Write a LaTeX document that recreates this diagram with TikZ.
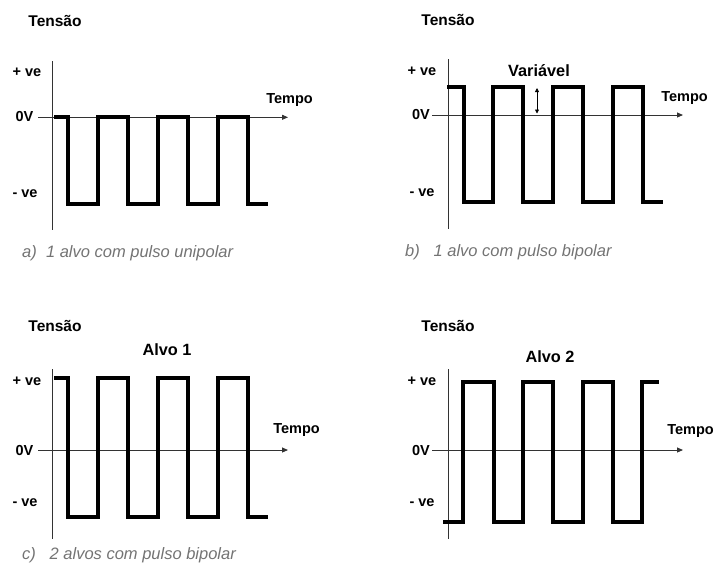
\documentclass[tikz,border=0pt]{standalone}
\usepackage{fontspec}
\setmainfont{Liberation Sans}
\usetikzlibrary{arrows.meta}
\begin{document}
\begin{tikzpicture}[x=1pt,y=-1pt,
  axis/.style={line width=0.9pt,black!80,-{Triangle[length=6pt,width=5pt]}},
  vaxis/.style={line width=0.9pt,black!80},
  wave/.style={line width=3.2pt,line join=miter,line cap=butt},
  lab/.style={inner sep=0,font=\bfseries\fontsize{14.5}{16}\selectfont},
  ttl/.style={inner sep=0,font=\bfseries\fontsize{15.5}{17}\selectfont},
  big/.style={inner sep=0,font=\bfseries\fontsize{16.3}{18}\selectfont},
  captxt/.style={inner sep=0,anchor=west,text=black!55,font=\itshape\fontsize{16.5}{18}\selectfont}]
\useasboundingbox (0,0) rectangle (714,574);
% ---------- panel a ----------
\node[ttl] (ta) at (55,21) {Tensão};
\node[lab] (pa) at (27,72) {+ ve};
\node[lab] (za) at (24.5,117) {0V};
\node[lab] (na) at (25,194) {- ve};
\node[lab] (ea) at (289.5,100) {Tempo};
\coordinate (va1) at (52.3,61); \coordinate (va2) at (52.3,230);
\coordinate (ha1) at (38,117.3); \coordinate (ha2) at (288,117.3);
\draw[vaxis] (va1) -- (va2);
\draw[axis] (ha1) -- (ha2);
\draw[wave] (54,117) -- (68,117) -- (68,204) -- (98,204) -- (98,117) -- (128,117) -- (128,204) -- (158,204) -- (158,117) -- (188,117) -- (188,204) -- (218,204) -- (218,117) -- (248,117) -- (248,204) -- (268,204);
\node[captxt] (ca) at (22,253) {a)\ \ 1 alvo com pulso unipolar};
% ---------- panel b ----------
\node[ttl] (tb) at (448,20) {Tensão};
\node[lab] (pb) at (422,71) {+ ve};
\node[lab] (zb) at (421,115) {0V};
\node[lab] (nb) at (422,193) {- ve};
\node[lab] (eb) at (684.5,98) {Tempo};
\node[big] (vb) at (539,71) {Variável};
\coordinate (vb1) at (448,59); \coordinate (vb2) at (448,229);
\coordinate (hb1) at (432,115); \coordinate (hb2) at (683,115);
\draw[vaxis] (vb1) -- (vb2);
\draw[axis] (hb1) -- (hb2);
\draw[wave] (447,87) -- (464,87) -- (464,202) -- (493,202) -- (493,87) -- (523,87) -- (523,202) -- (553,202) -- (553,87) -- (583,87) -- (583,202) -- (613,202) -- (613,87) -- (643,87) -- (643,202) -- (663,202);
\coordinate (db1) at (537,88); \coordinate (db2) at (537,113.5);
\draw[line width=0.8pt,{Triangle[length=4pt,width=4pt]}-{Triangle[length=4pt,width=4pt]}] (db1) -- (db2);
\node[captxt] (cb) at (405,252) {b)\ \ \ 1 alvo com pulso bipolar};
% ---------- panel c ----------
\node[ttl] (tc) at (55,326) {Tensão};
\node[big] (ac) at (167,350) {Alvo 1};
\node[lab] (pc) at (27,381) {+ ve};
\node[lab] (zc) at (24.5,450) {0V};
\node[lab] (nc) at (25,503) {- ve};
\node[lab] (ec) at (296.5,430) {Tempo};
\coordinate (vc1) at (52.3,369); \coordinate (vc2) at (52.3,539);
\coordinate (hc1) at (38,450); \coordinate (hc2) at (288,450);
\draw[vaxis] (vc1) -- (vc2);
\draw[axis] (hc1) -- (hc2);
\draw[wave] (54,378) -- (68,378) -- (68,517) -- (98,517) -- (98,378) -- (128,378) -- (128,517) -- (158,517) -- (158,378) -- (188,378) -- (188,517) -- (218,517) -- (218,378) -- (248,378) -- (248,517) -- (268,517);
\node[captxt] (cc) at (22,555) {c)\ \ \ 2 alvos com pulso bipolar};
% ---------- panel d ----------
\node[ttl] (td) at (448,326) {Tensão};
\node[big] (ad) at (550,357) {Alvo 2};
\node[lab] (pd) at (422,381) {+ ve};
\node[lab] (zd) at (421,450) {0V};
\node[lab] (nd) at (422,503) {- ve};
\node[lab] (ed) at (690.5,431) {Tempo};
\coordinate (vd1) at (448,369); \coordinate (vd2) at (448,539);
\coordinate (hd1) at (432,450); \coordinate (hd2) at (683,450);
\draw[vaxis] (vd1) -- (vd2);
\draw[axis] (hd1) -- (hd2);
\draw[wave] (443,522) -- (463,522) -- (463,382) -- (494,382) -- (494,522) -- (523,522) -- (523,382) -- (553,382) -- (553,522) -- (583,522) -- (583,382) -- (613,382) -- (613,522) -- (642,522) -- (642,382) -- (659,382);
\end{tikzpicture}
\end{document}
